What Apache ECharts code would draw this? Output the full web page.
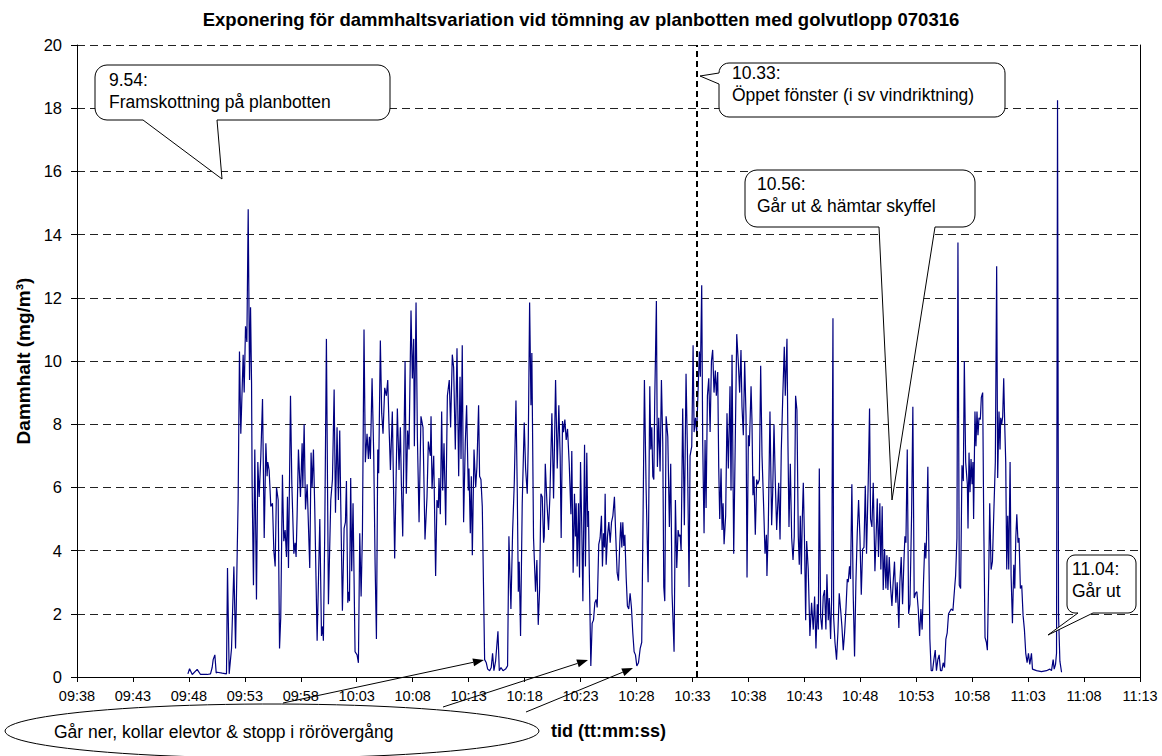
<!DOCTYPE html>
<html>
<head>
<meta charset="utf-8">
<script src="https://cdn.jsdelivr.net/npm/echarts@6/dist/echarts.min.js"></script>
<style>html,body{margin:0;padding:0;background:#fff;}#chart{width:1162px;height:756px;}</style>
</head>
<body>
<div id="chart"></div>
<script>
// x tick labels, one every 5 minutes from 09:38
const tickLabels = ['09:38','09:43','09:48','09:53','09:58','10:03','10:08','10:13','10:18','10:23','10:28','10:33','10:38','10:43','10:48','10:53','10:58','11:03','11:08','11:13'];

// sample times, minutes after 09:38
const minutesFrom0938 = [
9.91,10.06,10.30,10.74,11.04,11.64,11.93,12.08,12.17,12.32,
12.44,12.53,12.98,13.36,13.45,13.60,13.81,14.02,14.17,14.32,
14.40,14.52,14.64,14.85,14.94,15.06,15.18,15.30,15.42,15.51,
15.60,15.65,15.77,15.89,16.04,16.16,16.28,16.43,16.58,16.73,
16.88,16.99,17.05,17.17,17.23,17.32,17.47,17.59,17.71,17.83,
17.98,18.10,18.21,18.36,18.48,18.60,18.72,18.81,18.90,19.08,
19.20,19.38,19.49,19.58,19.67,19.79,19.97,20.12,20.18,20.30,
20.42,20.57,20.80,20.92,21.01,21.13,21.25,21.46,21.70,21.85,
21.96,22.02,22.14,22.29,22.47,22.68,22.83,22.98,23.10,23.24,
23.36,23.48,23.57,23.72,23.87,23.99,24.08,24.20,24.29,24.35,
24.46,24.55,24.67,24.85,25.03,25.15,25.27,25.39,25.51,25.65,
25.77,25.92,26.04,26.13,26.22,26.37,26.52,26.64,26.76,26.88,
26.96,27.11,27.23,27.35,27.50,27.65,27.77,27.89,28.01,28.18,
28.39,28.63,28.78,28.90,28.99,29.11,29.32,29.43,29.55,29.67,
29.85,29.97,30.09,30.15,30.30,30.42,30.57,30.74,30.92,31.10,
31.28,31.40,31.58,31.64,31.73,31.88,32.05,32.17,32.29,32.35,
32.47,32.59,32.68,32.80,32.95,33.10,33.27,33.39,33.54,33.66,
33.81,33.96,34.11,34.23,34.32,34.43,34.55,34.70,34.82,34.97,
35.03,35.15,35.24,35.33,35.48,35.63,35.74,35.89,35.98,36.10,
36.22,36.43,36.58,36.70,36.88,37.02,37.14,37.26,37.41,37.62,
37.74,37.89,38.07,38.30,38.48,38.60,38.78,38.93,39.08,39.23,
39.35,39.44,39.52,39.64,39.79,39.97,40.09,40.24,40.33,40.45,
40.57,40.65,40.80,40.98,41.10,41.22,41.34,41.46,41.58,41.70,
41.76,41.85,42.00,42.14,42.26,
42.44,42.59,42.77,42.92,43.06,43.18,43.27,43.39,43.48,43.60,
43.72,43.84,43.99,44.14,44.22,44.34,44.46,44.55,44.61,44.70,
44.82,44.91,45.00,45.12,45.21,45.36,45.44,45.56,45.65,45.71,
45.80,45.92,46.04,46.16,46.28,46.40,46.49,46.63,46.75,46.87,
46.96,47.05,47.14,47.20,47.29,47.41,47.53,47.65,47.77,47.89,
48.03,48.15,48.27,48.39,48.51,48.60,48.69,48.78,48.87,48.96,
49.08,49.19,49.31,49.43,49.55,49.67,49.79,49.91,50.03,50.18,
50.33,50.47,50.62,50.71,50.86,51.04,51.19,51.28,51.37,51.46,
51.55,51.63,51.78,51.87,51.99,52.11,52.23,52.35,52.44,52.53,
52.65,52.80,52.94,53.06,53.18,53.36,53.48,53.60,53.72,53.81,
53.90,53.99,54.13,54.28,54.43,54.55,54.70,54.79,54.94,55.06,
55.15,55.27,55.38,55.50,55.62,55.71,55.83,55.92,56.04,56.13,
56.22,56.34,56.46,56.58,56.70,56.81,56.93,57.05,57.14,57.26,
57.35,57.44,57.56,57.65,57.74,57.83,57.97,58.09,58.21,58.36,
58.45,58.54,58.69,58.84,58.96,59.11,59.22,59.34,59.43,59.55,
59.67,59.79,59.88,60.00,60.09,60.24,60.32,60.41,60.50,60.62,
60.74,60.83,60.98,61.10,61.22,61.37,61.49,61.61,61.66,61.78,
61.93,62.08,62.17,62.29,62.41,62.53,62.71,62.83,62.94,63.06,
63.21,63.30,63.45,63.54,63.63,63.75,63.87,63.99,64.10,64.22,
64.34,64.46,64.55,64.64,64.73,64.82,64.91,65.03,65.12,65.21,
65.35,65.50,65.65,65.80,65.92,66.04,66.16,66.25,66.34,66.46,
66.58,66.69,66.81,66.93,67.02,67.14,67.23,67.35,67.44,67.56,
67.62,67.74,67.88,68.00,68.12,68.24,68.36,68.48,68.60,68.72,
68.84,68.92,69.04,69.13,69.25,69.37,69.49,69.61,69.73,69.85,
69.97,70.09,70.21,70.33,70.45,70.56,70.71,70.83,70.92,71.04,
71.16,71.31,71.43,71.52,71.63,71.75,71.84,71.96,72.05,72.17,
72.29,72.38,72.47,72.59,72.71,72.83,72.94,73.06,73.18,73.30,
73.45,73.54,73.66,73.78,73.90,73.99,74.08,74.20,74.32,74.44,
74.59,74.70,74.82,74.94,75.06,75.18,75.30,75.42,75.53,75.65,
75.77,75.86,75.92,76.04,76.13,76.22,76.34,76.46,76.58,76.70,
76.81,76.93,77.05,77.17,77.29,77.41,77.53,77.65,77.77,77.89,
78.13,78.28,78.43,78.52,78.64,78.73,78.85,78.97,79.09,79.21,
79.30,79.42,79.57,79.63,79.72,79.81,79.90,79.99,80.07,80.13,
80.25,80.34,80.43,80.52,80.61,80.73,80.82,80.94,81.03,81.15,
81.27,81.36,81.48,81.57,81.69,81.81,81.96,82.07,82.19,82.28,
82.40,82.49,82.55,82.64,82.73,82.82,82.91,83.00,83.09,83.18,
83.27,83.39,83.48,83.60,83.72,83.81,83.90,83.99,84.10,84.19,
84.31,84.43,84.55,84.67,84.79,84.91,85.03,85.15,85.30,85.39,
85.75,86.19,86.64,86.94,87.09,87.24,87.33,87.45,87.54,87.63,
87.72,87.84,87.99
];

// dust concentration, mg/m3
const dust = [
0.1,0.26,0.08,0.24,0.08,0.08,0.1,0.3,0.55,0.7,
0.13,0.15,0.12,0.1,3.45,0.1,0.9,3.5,0.9,4.0,
5.6,10.3,7.7,10.2,9.0,11.1,10.6,14.8,9.4,11.7,
9.3,6.1,2.9,7.2,2.45,6.8,5.7,7.0,8.8,4.4,
7.4,6.35,6.8,6.55,6.1,5.4,5.5,4.0,3.5,6.0,
5.6,0.9,1.9,6.4,4.3,4.65,3.8,5.7,3.45,8.9,
6.1,3.9,4.25,3.8,5.1,7.2,5.7,7.4,6.0,8.0,
5.3,6.1,3.45,7.1,6.0,7.2,5.3,1.15,5.0,1.3,
1.6,1.15,4.55,10.7,2.3,5.6,6.25,9.1,5.2,7.9,
5.6,7.8,5.5,2.1,4.7,4.9,6.2,2.35,2.7,2.4,
6.3,3.35,5.5,0.8,0.7,0.45,4.55,2.55,4.6,11.0,
6.8,7.7,6.9,7.6,6.9,9.45,7.0,3.6,1.2,7.2,
6.45,10.65,8.35,7.7,9.15,8.9,9.4,7.9,6.55,8.4,
3.75,8.5,6.55,7.9,6.1,4.45,10.0,5.8,7.8,7.2,
11.6,9.45,10.7,7.3,11.85,7.6,4.9,8.25,7.9,4.35,
5.7,7.45,7.0,8.25,5.95,7.0,3.2,5.6,5.35,6.3,
5.15,8.4,5.9,7.4,4.8,8.9,9.4,7.9,10.2,9.8,
7.2,10.4,6.35,9.5,6.9,10.5,4.9,7.4,8.6,5.9,
6.6,4.55,6.35,3.85,7.2,6.0,6.65,8.6,6.35,6.25,
5.4,0.55,0.45,0.25,0.2,0.3,0.75,0.2,0.5,1.45,
0.2,0.3,0.2,0.25,0.35,4.45,2.15,4.6,6.15,8.75,
5.8,2.7,3.65,1.3,5.5,8.05,6.6,5.8,7.4,11.85,
8.6,10.25,4.4,2.7,3.7,1.65,2.75,5.8,5.7,4.25,
4.45,6.75,5.5,4.65,5.7,
8.35,5.65,9.4,6.6,8.6,7.0,4.4,8.1,7.75,8.15,
7.5,7.85,6.75,5.15,7.15,3.3,5.8,4.45,5.5,3.5,
5.5,3.15,6.8,4.55,2.4,7.35,3.5,7.1,4.75,5.25,
3.0,0.35,1.7,1.8,2.35,2.45,2.2,4.2,4.4,5.1,
3.5,4.55,4.1,5.8,3.55,4.45,4.9,4.25,4.9,5.1,
5.7,4.45,3.3,3.05,4.25,4.9,4.1,4.9,4.15,4.5,
3.15,2.25,2.15,2.65,2.2,1.4,0.8,0.7,0.35,0.45,
0.9,1.1,6.15,9.4,6.0,3.0,9.2,7.2,7.9,6.35,
6.25,8.7,11.9,6.65,8.2,6.5,9.4,7.4,2.85,2.4,
8.25,7.6,4.75,6.75,2.65,0.8,5.6,3.45,4.65,4.45,
4.5,4.0,8.5,4.8,9.6,7.2,2.85,7.0,7.3,10.5,
7.75,8.2,7.75,9.0,10.3,9.5,12.4,7.4,4.55,7.5,
5.35,8.9,9.45,7.75,10.0,10.35,9.0,9.7,8.9,9.65,
6.65,5.0,6.6,4.65,5.5,4.2,5.1,8.35,6.6,9.2,
5.9,10.2,3.9,7.75,10.85,9.9,9.0,10.35,8.55,7.65,
10.0,8.25,3.15,7.65,7.3,9.2,8.15,5.75,6.35,4.5,
6.25,6.1,6.25,9.85,7.0,5.35,3.9,4.5,3.2,4.75,
8.4,4.8,5.8,8.0,6.15,4.65,6.15,4.35,7.15,8.7,
10.45,8.9,10.7,7.3,4.75,6.75,4.4,3.7,4.45,8.9,
8.45,4.45,3.55,5.1,3.25,5.0,6.15,4.05,1.8,4.3,
3.4,1.3,2.35,1.5,2.55,0.9,2.3,1.5,6.6,1.9,
1.5,2.55,2.75,1.5,3.25,1.8,2.5,1.2,2.45,11.35,
1.9,1.1,0.55,1.4,2.65,2.15,1.6,0.85,1.4,2.15,
3.1,3.0,3.5,3.1,6.1,2.6,0.65,3.0,4.55,5.6,
4.45,2.6,4.05,4.1,6.05,3.9,6.15,8.5,5.0,4.75,
6.15,3.35,4.6,5.65,3.8,5.5,3.4,5.4,2.75,4.05,
2.8,3.85,2.75,3.8,2.85,2.25,3.0,3.65,2.35,3.0,
1.55,3.0,3.8,2.3,3.65,4.45,4.25,7.2,2.0,2.3,
5.2,8.55,2.5,2.65,2.7,2.15,1.3,2.15,1.5,3.0,
4.25,3.75,4.35,6.65,4.05,1.2,0.2,0.2,0.55,0.85,
0.2,0.55,0.7,0.2,0.2,0.45,0.3,1.2,1.4,2.0,
2.15,2.1,2.8,3.2,4.4,13.75,2.9,2.8,6.7,6.2,
10.0,6.8,6.1,4.7,7.1,5.85,6.9,6.1,6.8,5.0,
8.4,7.3,8.4,7.65,8.2,8.15,8.85,9.0,5.1,1.25,
1.1,0.85,3.2,5.5,3.4,3.65,5.5,6.8,13.0,6.3,
8.4,7.2,8.2,8.0,8.25,9.45,8.0,6.8,3.4,5.1,
3.4,6.8,3.2,1.7,3.55,2.8,4.4,5.15,4.25,4.4,
2.8,2.9,1.95,1.5,0.75,0.45,0.75,0.4,0.75,0.25,
0.2,0.17,0.2,0.25,0.2,0.55,0.25,0.4,0.75,18.25,
1.95,0.5,0.15
];

// event: window opened, minutes after 09:38
const windowOpenedAt = 55.4;

const FONT = '"Liberation Sans", Arial, sans-serif';
const seriesData = minutesFrom0938.map((m, i) => [m, dust[i]]);

function calloutPoints(x, y, w, h, r, tail) {
  const pts = [];
  const arc = (cx, cy, a0, a1) => {
    for (let i = 0; i <= 6; i++) {
      const a = a0 + (a1 - a0) * i / 6;
      pts.push([cx + r * Math.cos(a), cy + r * Math.sin(a)]);
    }
  };
  arc(x + r, y + r, Math.PI, 1.5 * Math.PI);
  arc(x + w - r, y + r, -0.5 * Math.PI, 0);
  arc(x + w - r, y + h - r, 0, 0.5 * Math.PI);
  if (tail.edge === 'bottom') { pts.push([tail.b, y + h], tail.tip, [tail.a, y + h]); }
  arc(x + r, y + h - r, 0.5 * Math.PI, Math.PI);
  if (tail.edge === 'left') { pts.push([x, tail.b], tail.tip, [x, tail.a]); }
  return pts;
}
function ellipsePoints(cx, cy, rx, ry) {
  const pts = [];
  for (let i = 0; i < 90; i++) {
    const a = i / 90 * 2 * Math.PI;
    pts.push([cx + rx * Math.cos(a), cy + ry * Math.sin(a)]);
  }
  return pts;
}
function arrow(x1, y1, x2, y2) {
  const ang = Math.atan2(y2 - y1, x2 - x1);
  const L = 11, W = 4;
  const bx = x2 - L * Math.cos(ang), by = y2 - L * Math.sin(ang);
  const nx = -Math.sin(ang) * W, ny = Math.cos(ang) * W;
  return [
    { type: 'line', z: 100, shape: { x1, y1, x2: bx, y2: by }, style: { stroke: '#000', lineWidth: 1 } },
    { type: 'polygon', z: 100, shape: { points: [[x2, y2], [bx + nx, by + ny], [bx - nx, by - ny]] }, style: { fill: '#000' } }
  ];
}
function label(text, x, y) {
  return { type: 'text', z: 101, x, y, style: { text, font: '17.5px ' + FONT, fill: '#000', textAlign: 'left', textVerticalAlign: 'middle' } };
}
const boxStyle = { fill: '#fff', stroke: '#000', lineWidth: 1 };

const graphics = [
  { type: 'polygon', z: 100, shape: { points: calloutPoints(95, 65, 295, 55, 12, { edge: 'bottom', a: 143, b: 217, tip: [222, 179] }) }, style: boxStyle },
  label('9.54:', 109, 80),
  label('Framskottning på planbotten', 109, 102),
  { type: 'polygon', z: 100, shape: { points: calloutPoints(719, 63, 286, 54, 10, { edge: 'left', a: 73, b: 84, tip: [700, 76] }) }, style: boxStyle },
  label('10.33:', 732, 73),
  label('Öppet fönster (i sv vindriktning)', 732, 95),
  { type: 'polygon', z: 100, shape: { points: calloutPoints(745, 170, 230, 57, 12, { edge: 'bottom', a: 879, b: 935, tip: [892, 500] }) }, style: boxStyle },
  label('10.56:', 757, 184),
  label('Går ut & hämtar skyffel', 757, 206),
  { type: 'polygon', z: 100, shape: { points: calloutPoints(1067, 555, 69, 58, 8, { edge: 'bottom', a: 1078, b: 1093, tip: [1048, 635] }) }, style: boxStyle },
  label('11.04:', 1072, 569),
  label('Går ut', 1072, 591),
  { type: 'polygon', z: 100, shape: { points: ellipsePoints(272, 731, 267, 27) }, style: { fill: 'none', stroke: '#000', lineWidth: 1 } },
  label('Går ner, kollar elevtor & stopp i rörövergång', 54, 732),
  ...arrow(283, 703, 484, 660),
  ...arrow(443, 707, 588, 660),
  ...arrow(526, 712, 633, 668)
];

const chart = echarts.init(document.getElementById('chart'), null, { renderer: 'svg' });
chart.setOption({
  animation: false,
  backgroundColor: '#fff',
  title: {
    text: 'Exponering för dammhaltsvariation vid tömning av planbotten med golvutlopp 070316',
    left: 'center', top: 5,
    textStyle: { fontFamily: FONT, fontSize: 18.5, fontWeight: 'bold', color: '#000' }
  },
  grid: { left: 77, right: 22, top: 45, bottom: 79, containLabel: false },
  xAxis: {
    type: 'value', min: 0, max: 95, interval: 5,
    name: 'tid (tt:mm:ss)', nameLocation: 'middle', nameGap: 45,
    nameTextStyle: { fontFamily: FONT, fontSize: 18, fontWeight: 'bold', color: '#000' },
    axisLine: { show: true, onZero: false, lineStyle: { color: '#000', width: 1 } },
    axisTick: { show: true, inside: false, length: 5, lineStyle: { color: '#000' } },
    axisLabel: { fontFamily: FONT, fontSize: 14.5, color: '#000', margin: 11, showMaxLabel: true, showMinLabel: true,
      formatter: v => tickLabels[Math.round(v / 5)] },
    splitLine: { show: false }
  },
  yAxis: [{
    type: 'value', min: 0, max: 20, interval: 2,
    name: 'Dammhalt (mg/m³)', nameLocation: 'middle', nameGap: 42, nameRotate: 90,
    nameTextStyle: { fontFamily: FONT, fontSize: 19, fontWeight: 'bold', color: '#000' },
    axisLine: { show: true, lineStyle: { color: '#000', width: 1 } },
    axisTick: { show: true, inside: false, length: 6, lineStyle: { color: '#000' } },
    axisLabel: { fontFamily: FONT, fontSize: 16.5, color: '#000', margin: 15 },
    splitLine: { show: true, lineStyle: { color: '#222', type: [8, 5], width: 1 } }
  }, {
    type: 'value', min: 0, max: 20, position: 'right',
    axisLine: { show: true, lineStyle: { color: '#000', width: 1 } },
    axisTick: { show: false }, axisLabel: { show: false }, splitLine: { show: false }
  }],
  series: [{
    type: 'line',
    data: seriesData,
    showSymbol: false,
    symbol: 'none',
    lineStyle: { color: '#000080', width: 1.2 },
    markLine: {
      silent: true, symbol: ['none', 'none'], label: { show: false },
      lineStyle: { color: '#000', type: [6, 4], width: 2 },
      data: [{ xAxis: windowOpenedAt }]
    }
  }],
  graphic: graphics
});
</script>
</body>
</html>
